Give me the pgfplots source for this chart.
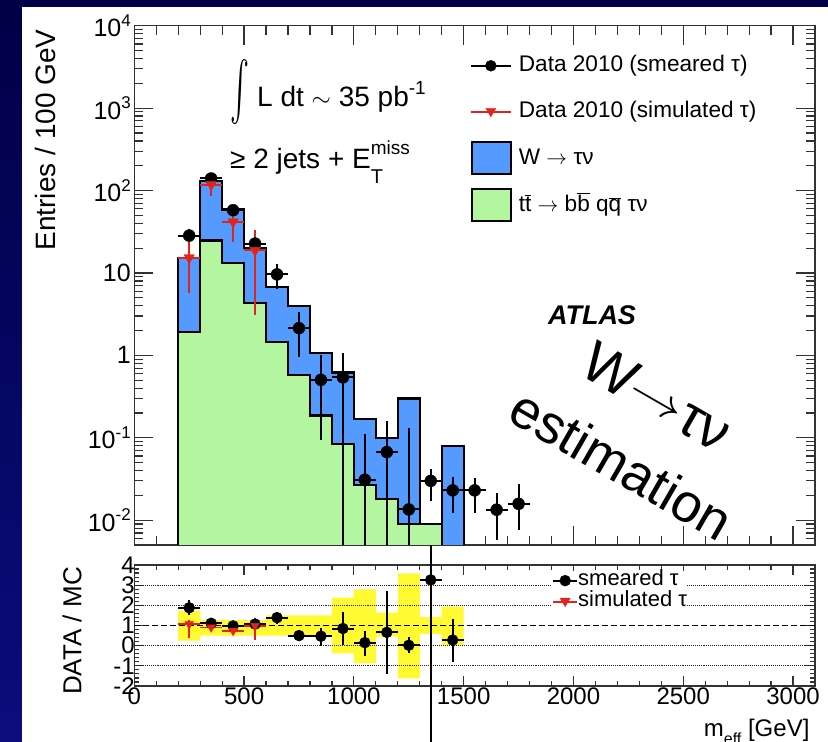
\documentclass[border=0pt]{standalone}
\usepackage{pgfplots}
\usepackage{pgfplotstable}
\pgfplotsset{compat=1.18}
\usepackage{fontspec}
\setmainfont{Liberation Sans}
\definecolor{navytop}{RGB}{0,0,70}
\definecolor{navybot}{RGB}{12,12,125}
\definecolor{wblue}{RGB}{85,155,255}
\definecolor{ttgreen}{RGB}{180,245,160}
\definecolor{bandyellow}{RGB}{255,250,50}
\definecolor{dred}{RGB}{225,35,30}
\definecolor{framecol}{RGB}{50,50,50}
\newcommand\obar[1]{\ensuremath{\overline{\mbox{#1}}}}
\newcommand\supr[1]{\raisebox{0.42em}{\fontsize{17}{17}\selectfont #1}}

% data 2010, smeared tau (main panel)
\pgfplotstableread{
x y ex ep em
250 28.4 50 5.3 5.3
350 140 50 12 12
450 57.7 50 7.6 7.6
550 22.7 50 4.8 4.8
650 9.6 50 3.4 3.3
750 2.14 50 1.21 1.19
850 0.505 50 0.50 0.41
950 0.54 50 0.53 0.5399
1050 0.031 50 0.080 0.0309
1150 0.067 50 0.095 0.0669
1250 0.0135 50 0.1165 0.01349
1350 0.030 50 0.0119 0.0127
1450 0.023 50 0.010 0.0109
1550 0.023 50 0.0093 0.0107
1650 0.0134 50 0.0077 0.0077
1750 0.0158 50 0.012 0.0082
}\smeared
% data 2010, simulated tau (main panel)
\pgfplotstableread{
x y ex ep em
250 15.3 50 9.6 9.6
350 118 50 28 32
450 41.6 50 16 18
550 18.8 50 14.2 15.7
}\simulated
% ratio, smeared
\pgfplotstableread{
x y ex ep em
250 1.88 50 0.38 0.36
350 1.11 50 0.10 0.10
450 0.98 50 0.08 0.08
550 1.07 50 0.10 0.10
650 1.39 50 0.29 0.32
750 0.50 50 0.10 0.10
850 0.47 50 0.39 0.49
950 0.85 50 0.83 0.82
1050 0.15 50 0.60 0.68
1150 0.66 50 2.07 2.06
1250 0.02 50 0.42 0.40
1350 3.26 50 1.73 8.1
1450 0.28 50 1.03 1.07
}\rsmeared
% ratio, simulated
\pgfplotstableread{
x y ex ep em
250 1.07 50 0.20 0.71
350 0.91 50 0.12 0.12
450 0.74 50 0.10 0.10
550 0.98 50 0.38 0.70
}\rsimulated

\begin{document}
\begin{tikzpicture}
\useasboundingbox (0pt,0pt) rectangle (828pt,742pt);
\shade[top color=navytop, bottom color=navybot] (0pt,0pt) rectangle (828pt,742pt);
\fill[white] (22pt,0pt) rectangle (828pt,735pt);

% ---------------- main panel ----------------
\begin{axis}[
  at={(134.3pt,197pt)}, anchor=south west, scale only axis,
  width=680.7pt, height=519.3pt,
  xmin=0, xmax=3100, ymode=log, ymin=0.005, ymax=10000,
  axis line style={line width=1.5pt, color=framecol},
  every tick/.style={color=framecol, line width=1.2pt},
  tick align=inside,
  major tick length=19pt, minor tick length=9pt,
  xtick={0,500,...,3000}, minor xtick={100,200,...,3000}, xticklabels={},
  ytick={0.01,0.1,1,10,100,1000,10000},
  minor ytick={0.005,0.006,0.007,0.008,0.009,0.02,0.03,0.04,0.05,0.06,0.07,0.08,0.09,0.2,0.3,0.4,0.5,0.6,0.7,0.8,0.9,2,3,4,5,6,7,8,9,20,30,40,50,60,70,80,90,200,300,400,500,600,700,800,900,2000,3000,4000,5000,6000,7000,8000,9000},
  yticklabels={10\supr{-2},10\supr{-1},1,10,10\supr{2},10\supr{3},10\supr{4}},
  yticklabel style={font=\fontsize{25}{28}\selectfont},
  ylabel={Entries / 100 GeV},
  every axis y label/.style={at={(axis description cs:-0.131,0.780)}, rotate=90, anchor=center, font=\fontsize{28}{30}\selectfont},
  legend style={at={(rel axis cs:0.493,0.955)}, anchor=north west, draw=none, fill=none,
    font=\fontsize{22.6}{26}\selectfont, row sep=13pt, column sep=0pt, inner sep=0pt,
    nodes={inner sep=0pt, text height=17pt, text depth=5pt}},
  legend cell align=left,
]
% W -> tau nu (stacked total)
\addplot[fill=wblue, draw=black, line width=2.2pt, forget plot] coordinates {
(200,0.001)(200,15.3)(300,15.3)(300,130)(400,130)(400,59)(500,59)(500,20.3)(600,20.3)(600,6.8)(700,6.8)(700,3.96)(800,3.96)(800,1.06)(900,1.06)(900,0.62)(1000,0.62)(1000,0.17)(1100,0.17)(1100,0.0986)(1200,0.0986)(1200,0.30)(1300,0.30)(1300,0.009)(1400,0.009)(1400,0.079)(1500,0.079)(1500,0.001)};
% ttbar
\addplot[fill=ttgreen, draw=black, line width=2.2pt, forget plot] coordinates {
(200,0.001)(200,1.9)(300,1.9)(300,24.7)(400,24.7)(400,13.2)(500,13.2)(500,4.3)(600,4.3)(600,1.45)(700,1.45)(700,0.58)(800,0.58)(800,0.186)(900,0.186)(900,0.084)(1000,0.084)(1000,0.0268)(1100,0.0268)(1100,0.0181)(1200,0.0181)(1200,0.009)(1300,0.009)(1400,0.009)(1400,0.001)};
% data smeared
\addplot[only marks, mark=*, mark size=6pt, black, forget plot,
  error bars/.cd, x dir=both, x explicit, y dir=both, y explicit,
  error mark=none, error bar style={line width=2pt, black}]
  table[x=x, y=y, x error=ex, y error plus=ep, y error minus=em] {\smeared};
% data simulated
\addplot[only marks, mark=triangle*, mark size=6pt, mark options={rotate=180}, dred, forget plot,
  error bars/.cd, x dir=both, x explicit, y dir=both, y explicit,
  error mark=none, error bar style={line width=2pt, dred}]
  table[x=x, y=y, x error=ex, y error plus=ep, y error minus=em] {\simulated};

\addlegendimage{legend image code/.code={
  \path[draw=none,fill=none] (0pt,-16.5pt) rectangle (48pt,16.5pt);
  \draw[black,line width=1.6pt] (0pt,0pt) -- (40pt,0pt);
  \fill[black] (20pt,0pt) circle (5.5pt);}}
\addlegendentry{Data 2010 (smeared τ)}
\addlegendimage{legend image code/.code={
  \path[draw=none,fill=none] (0pt,-16.5pt) rectangle (48pt,16.5pt);
  \draw[dred,line width=1.6pt] (0pt,0pt) -- (40pt,0pt);
  \fill[dred] (20pt,-5pt) -- (15pt,3.5pt) -- (25pt,3.5pt) -- cycle;}}
\addlegendentry{Data 2010 (simulated τ)}
\addlegendimage{legend image code/.code={
  \path[draw=none,fill=none] (0pt,-16.5pt) rectangle (48pt,16.5pt);
  \draw[fill=wblue, draw=black, line width=2pt] (1pt,-16pt) rectangle (40pt,16pt);}}
\addlegendentry{W $\rightarrow$ τν}
\addlegendimage{legend image code/.code={
  \path[draw=none,fill=none] (0pt,-16.5pt) rectangle (48pt,16.5pt);
  \draw[fill=ttgreen, draw=black, line width=2pt] (1pt,-16pt) rectangle (40pt,16pt);}}
\addlegendentry{t\obar{t} $\rightarrow$ b\obar{b} q\obar{q} τν}
\end{axis}

% ---------------- ratio panel ----------------
\begin{axis}[
  at={(134.3pt,56pt)}, anchor=south west, scale only axis,
  width=680.7pt, height=121pt,
  xmin=0, xmax=3100, ymin=-2, ymax=4, clip=false,
  axis line style={line width=1.5pt, color=framecol},
  every tick/.style={color=framecol, line width=1.2pt},
  tick align=inside,
  major tick length=10pt, minor tick length=5pt,
  xtick={0,500,...,3000}, minor xtick={100,200,...,3000},
  xticklabels={0,500,1000,1500,2000,2500,3000},
  ytick={-2,-1,0,1,2,3,4}, yticklabels={-2,-1,0,1,2,3,4},
  minor y tick num=4,
  ticklabel style={font=\fontsize{24}{26}\selectfont},
  yticklabel style={xshift=4pt},
  xticklabel style={yshift=2pt},
  ylabel={DATA / MC},
  every axis y label/.style={at={(axis description cs:-0.0915,0.4545)}, rotate=90, anchor=center, font=\fontsize{26}{28}\selectfont},
  xlabel={m\raisebox{-0.3em}{\fontsize{16}{16}\selectfont eff} [GeV]},
  every axis x label/.style={at={(axis description cs:0.997,-0.421)}, anchor=base east, font=\fontsize{24}{26}\selectfont},
  legend style={at={(rel axis cs:0.6136,0.955)}, anchor=north west, draw=none, fill=white,
    font=\fontsize{22}{24}\selectfont, row sep=1pt, column sep=0pt, inner sep=0pt,
    nodes={inner sep=0pt, text height=15pt, text depth=5pt}},
  legend cell align=left,
]
\addplot[fill=bandyellow, draw=none, forget plot] coordinates {
(200,1.72)(300,1.72)(300,1.27)(600,1.27)(600,1.5)(900,1.5)(900,2.38)(1000,2.38)(1000,2.79)(1100,2.79)(1100,1.64)(1200,1.64)(1200,3.59)(1300,3.59)(1300,1.41)(1400,1.41)(1400,1.93)(1500,1.93)
(1500,0.03)(1400,0.03)(1400,0.58)(1300,0.58)(1300,-1.62)(1200,-1.62)(1200,0.45)(1100,0.45)(1100,-0.87)(1000,-0.87)(1000,-0.38)(900,-0.38)(900,0.5)(600,0.5)(600,0.5)(300,0.5)(300,0.25)(200,0.25)};
\addplot[black!85, densely dotted, line width=1.1pt, forget plot] coordinates {(0,3)(3100,3)};
\addplot[black!85, densely dotted, line width=1.1pt, forget plot] coordinates {(0,2)(3100,2)};
\addplot[black!85, densely dotted, line width=1.1pt, forget plot] coordinates {(0,0)(3100,0)};
\addplot[black!85, densely dotted, line width=1.1pt, forget plot] coordinates {(0,-1)(3100,-1)};
\addplot[black, dash pattern=on 6pt off 3pt, line width=1.8pt, forget plot] coordinates {(0,1)(3100,1)};
\addplot[only marks, mark=*, mark size=5.5pt, black, forget plot,
  error bars/.cd, x dir=both, x explicit, y dir=both, y explicit,
  error mark=none, error bar style={line width=2pt, black}]
  table[x=x, y=y, x error=ex, y error plus=ep, y error minus=em] {\rsmeared};
\addplot[only marks, mark=triangle*, mark size=5pt, mark options={rotate=180}, dred, forget plot,
  error bars/.cd, x dir=both, x explicit, y dir=both, y explicit,
  error mark=none, error bar style={line width=1.6pt, dred}]
  table[x=x, y=y, x error=ex, y error plus=ep, y error minus=em] {\rsimulated};
\addlegendimage{legend image code/.code={
  \draw[black,line width=2pt] (0pt,0pt) -- (24pt,0pt);
  \fill[black] (12pt,0pt) circle (5.5pt);}}
\addlegendentry{smeared τ}
\addlegendimage{legend image code/.code={
  \draw[dred,line width=2pt] (0pt,0pt) -- (24pt,0pt);
  \fill[dred] (12pt,-5pt) -- (7pt,3.5pt) -- (17pt,3.5pt) -- cycle;}}
\addlegendentry{simulated τ}
\end{axis}

% ---------------- annotations ----------------
\node[anchor=base west, font=\fontsize{28}{30}\selectfont, inner sep=0pt] at (230pt,635pt)
  {\raisebox{6.5pt}{$\vcenter{\hbox{\resizebox*{19pt}{69pt}{$\int$}}}$}\hspace{8pt}L dt $\sim$ 35 pb\raisebox{0.45em}{\fontsize{19}{19}\selectfont -1}};
\node[anchor=base west, font=\fontsize{28}{30}\selectfont, inner sep=0pt] at (230pt,573.4pt)
  {≥ 2 jets + E\rlap{\raisebox{-15pt}{\fontsize{20}{20}\selectfont T}}\raisebox{14pt}{\fontsize{19}{19}\selectfont miss}};
\node[font=\fontsize{27}{28}\selectfont\bfseries\itshape] at (592pt,426.6pt) {ATLAS};
\node[rotate=-30, font=\fontsize{57}{60}\selectfont] at (657pt,345pt)
  {W\raisebox{4pt}{\scalebox{2.3}[1.8]{$\rightarrow$}}τν};
\node[rotate=-30, font=\fontsize{54}{56}\selectfont] at (621.5pt,278pt) {estimation};
\end{tikzpicture}
\end{document}
